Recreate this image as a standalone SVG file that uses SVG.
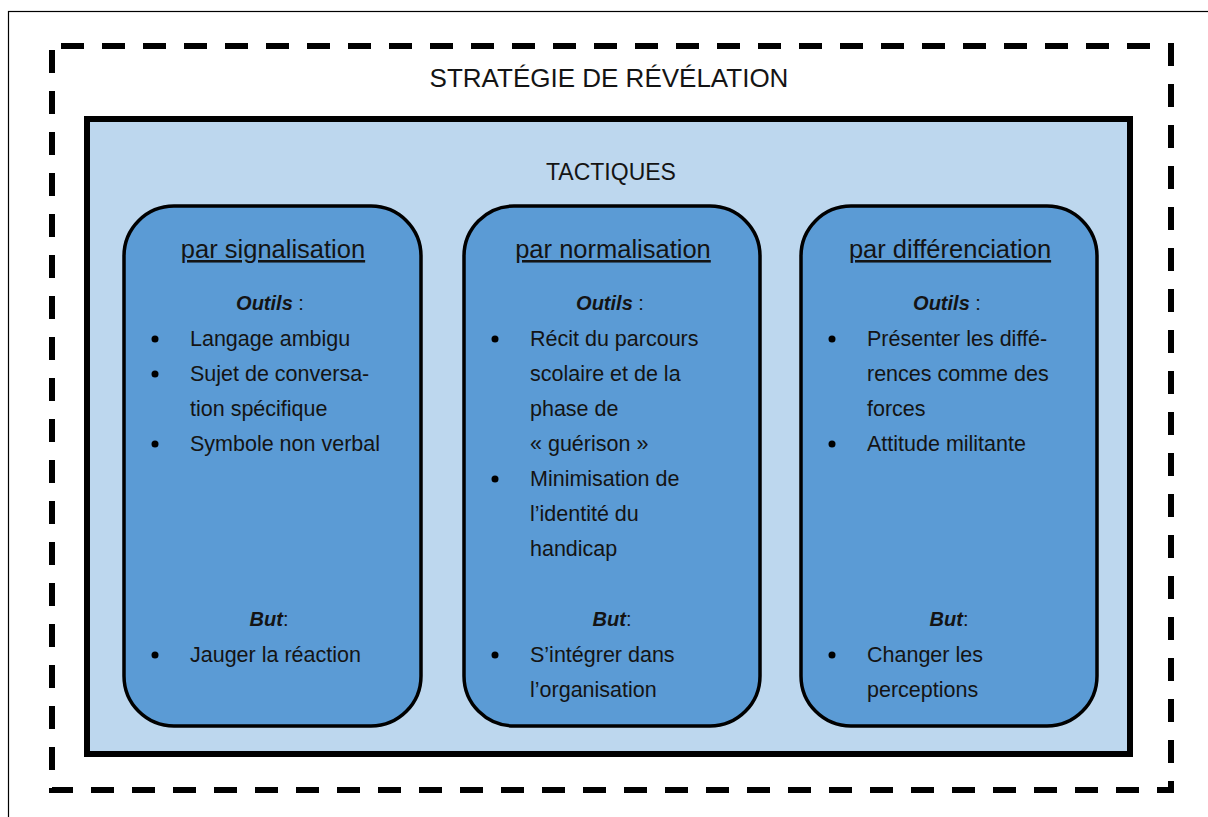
<svg xmlns="http://www.w3.org/2000/svg" width="1208" height="817" viewBox="0 0 1208 817">
<style>
.t{font-family:"Liberation Sans",Arial,sans-serif;fill:#141414;}
.title{font-size:26px;text-anchor:middle;}
.sub{font-size:23px;text-anchor:middle;}
.head{font-size:25.5px;text-anchor:middle;text-decoration:underline;}
.lbl{font-size:20px;text-anchor:middle;}
.lbl tspan.b{font-weight:bold;font-style:italic;}
.body{font-size:21.5px;}
.box{fill:#5B9BD5;stroke:#000;stroke-width:3.5;}
.dot{fill:#000;}
</style>
<rect x="0" y="0" width="1208" height="817" fill="#fff"/>
<rect x="8.5" y="11.5" width="1210" height="820" fill="none" stroke="#000" stroke-width="1.2"/>
<g id="strategie">
<rect x="52" y="46" width="1119" height="744" fill="none" stroke="#000" stroke-width="6" stroke-dasharray="23 18" stroke-dashoffset="-9"/>
<text class="t title" x="609" y="87">STRATÉGIE DE RÉVÉLATION</text>
</g>
<g id="tactiques">
<rect x="87" y="119" width="1043" height="635" fill="#BDD7EE" stroke="#000" stroke-width="6"/>
<text class="t sub" x="611" y="180">TACTIQUES</text>
</g>
<g id="signalisation">
<rect class="box" x="124" y="206" width="297" height="520" rx="50" ry="50"/>
<text class="t head" x="273" y="258">par signalisation</text>
<text class="t lbl" x="270" y="310"><tspan class="b">Outils</tspan> :</text>
<circle class="dot" cx="155" cy="339" r="3.5"/>
<circle class="dot" cx="155" cy="374" r="3.5"/>
<circle class="dot" cx="155" cy="444" r="3.5"/>
<text class="t body" x="190" y="346">Langage ambigu</text>
<text class="t body" x="190" y="381">Sujet de conversa-</text>
<text class="t body" x="190" y="416">tion spécifique</text>
<text class="t body" x="190" y="451">Symbole non verbal</text>
<text class="t lbl" x="269" y="626"><tspan class="b">But</tspan>:</text>
<circle class="dot" cx="155" cy="655" r="3.5"/>
<text class="t body" x="190" y="662">Jauger la réaction</text>
</g>
<g id="normalisation">
<rect class="box" x="464" y="206" width="296" height="520" rx="50" ry="50"/>
<text class="t head" x="613" y="258">par normalisation</text>
<text class="t lbl" x="610" y="310"><tspan class="b">Outils</tspan> :</text>
<circle class="dot" cx="495" cy="339" r="3.5"/>
<circle class="dot" cx="495" cy="479" r="3.5"/>
<text class="t body" x="530" y="346">Récit du parcours</text>
<text class="t body" x="530" y="381">scolaire et de la</text>
<text class="t body" x="530" y="416">phase de</text>
<text class="t body" x="530" y="451">« guérison »</text>
<text class="t body" x="530" y="486">Minimisation de</text>
<text class="t body" x="530" y="521">l’identité du</text>
<text class="t body" x="530" y="556">handicap</text>
<text class="t lbl" x="612" y="626"><tspan class="b">But</tspan>:</text>
<circle class="dot" cx="495" cy="655" r="3.5"/>
<text class="t body" x="530" y="662">S’intégrer dans</text>
<text class="t body" x="530" y="697">l’organisation</text>
</g>
<g id="differenciation">
<rect class="box" x="801" y="206" width="296" height="520" rx="50" ry="50"/>
<text class="t head" x="950" y="258">par différenciation</text>
<text class="t lbl" x="947" y="310"><tspan class="b">Outils</tspan> :</text>
<circle class="dot" cx="832" cy="339" r="3.5"/>
<circle class="dot" cx="832" cy="444" r="3.5"/>
<text class="t body" x="867" y="346">Présenter les diffé-</text>
<text class="t body" x="867" y="381">rences comme des</text>
<text class="t body" x="867" y="416">forces</text>
<text class="t body" x="867" y="451">Attitude militante</text>
<text class="t lbl" x="949" y="626"><tspan class="b">But</tspan>:</text>
<circle class="dot" cx="832" cy="655" r="3.5"/>
<text class="t body" x="867" y="662">Changer les</text>
<text class="t body" x="867" y="697">perceptions</text>
</g>
<g id="connectors"></g>
</svg>
